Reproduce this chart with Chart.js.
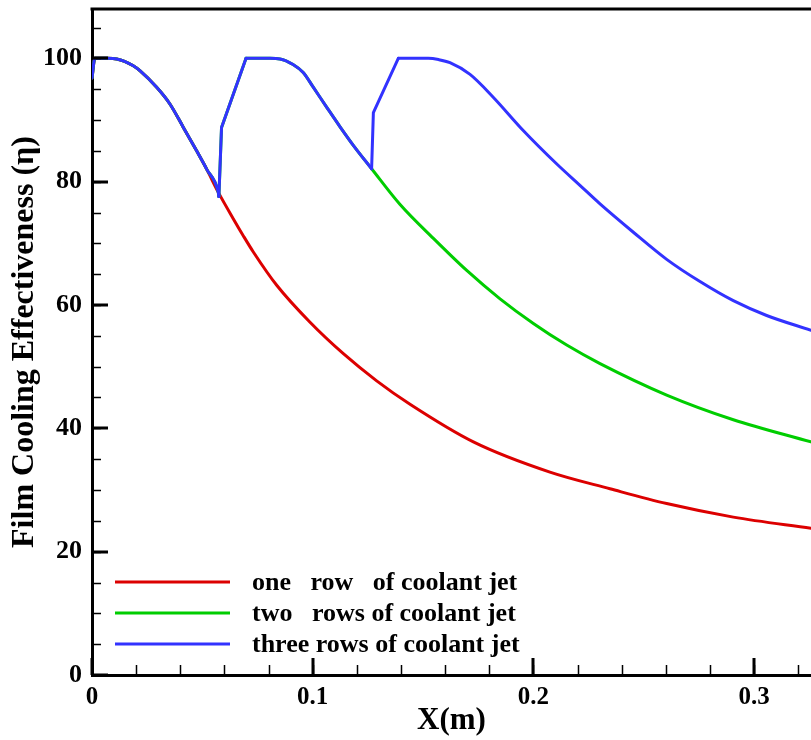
<!DOCTYPE html>
<html>
<head>
<meta charset="utf-8">
<script src="https://cdn.jsdelivr.net/npm/chart.js@4"></script>
<style>
  body { margin: 0; background: #fff; overflow: hidden; }
  #chart { display: block; }
</style>
</head>
<body>
<canvas id="chart" width="811" height="740"></canvas>
<script>
// values
const xOne = [0, 0.0013, 0.007, 0.0112, 0.0187, 0.0217, 0.0293, 0.0353, 0.0414, 0.0474, 0.052, 0.0572, 0.064, 0.0686, 0.0731, 0.0837, 0.0988, 0.1139, 0.129, 0.1441, 0.1728, 0.2075, 0.2347, 0.2604, 0.2906, 0.3258];
const yOne = [96.8, 100, 100, 99.9, 98.8, 98.0, 95.3, 92.6, 88.8, 85.0, 82.0, 78.3, 74.0, 71.2, 68.6, 63.2, 57.2, 52.1, 47.7, 43.9, 37.8, 32.9, 30.2, 27.8, 25.6, 23.8];

const xTwo = [0, 0.0013, 0.007, 0.0112, 0.0187, 0.0217, 0.0293, 0.0353, 0.0414, 0.0474, 0.052, 0.0572, 0.0575, 0.0587, 0.0698, 0.0807, 0.0852, 0.0911, 0.0957, 0.1001, 0.1063, 0.1124, 0.1184, 0.1267, 0.1396, 0.1547, 0.1698, 0.1849, 0.2, 0.2151, 0.2302, 0.2604, 0.2906, 0.3258];
const yTwo = [96.8, 100, 100, 99.9, 98.8, 98.0, 95.3, 92.6, 88.8, 85.0, 82.0, 78.3, 77.6, 88.8, 100, 100, 99.9, 99.0, 97.7, 95.4, 92.1, 88.9, 85.9, 82.1, 76.3, 70.8, 65.6, 61.0, 57.0, 53.5, 50.5, 45.4, 41.4, 37.8];

const xThree = [0, 0.0013, 0.007, 0.0112, 0.0187, 0.0217, 0.0293, 0.0353, 0.0414, 0.0474, 0.052, 0.0572, 0.0575, 0.0587, 0.0698, 0.0807, 0.0852, 0.0911, 0.0957, 0.1001, 0.1063, 0.1124, 0.1184, 0.1267, 0.1275, 0.1388, 0.1524, 0.157, 0.1622, 0.1713, 0.1818, 0.1954, 0.2105, 0.2211, 0.2302, 0.2453, 0.2604, 0.2755, 0.2906, 0.3057, 0.3258];
const yThree = [96.8, 100, 100, 99.9, 98.8, 98.0, 95.3, 92.6, 88.8, 85.0, 82.0, 78.3, 77.6, 88.8, 100, 100, 99.9, 99.0, 97.7, 95.4, 92.1, 88.9, 85.9, 82.1, 91.2, 100, 100, 99.8, 99.3, 97.4, 93.7, 88.3, 82.9, 79.4, 76.4, 71.8, 67.4, 63.8, 60.7, 58.3, 55.9];

// index spans that are straight ramps (jet injection) in each series
const rampsOne = [];
const rampsTwo = [[12, 14]];
const rampsThree = [[12, 14], [23, 25]];

const seriesLabels = ['one   row   of coolant jet', 'two   rows of coolant jet', 'three rows of coolant jet'];
const seriesColors = ['rgb(220, 0, 0)', 'rgb(0, 205, 0)', 'rgb(50, 50, 255)'];
const xTicks = [0, 0.1, 0.2, 0.3];
const yTicks = [0, 20, 40, 60, 80, 100];

const FONT = '"Liberation Serif", "Times New Roman", serif';

// split one series into smooth pieces and straight ramp pieces
function buildDatasets(xs, ys, ramps, idx) {
    const out = [];
    const cuts = [];
    let start = 0;
    ramps.forEach(r => {
        cuts.push({ from: start, to: r[0], straight: false });
        cuts.push({ from: r[0], to: r[1], straight: true });
        start = r[1];
    });
    cuts.push({ from: start, to: xs.length - 1, straight: false });
    cuts.forEach((c, k) => {
        const pts = [];
        for (let i = c.from; i <= c.to; i++) pts.push({ x: xs[i], y: ys[i] });
        out.push({
            label: seriesLabels[idx],
            inLegend: k === 0,
            data: pts,
            borderColor: seriesColors[idx],
            borderWidth: 3,
            cubicInterpolationMode: c.straight ? 'default' : 'monotone',
            tension: 0,
            order: 3 - idx
        });
    });
    return out;
}

// Frame top line + inward tick marks (major and minor)
const frameTicks = {
    id: 'frameTicks',
    afterDatasetsDraw(chart) {
        const { ctx, chartArea: a, scales: { x, y } } = chart;
        ctx.save();
        ctx.strokeStyle = '#000';
        ctx.lineWidth = 3;
        ctx.beginPath();
        ctx.moveTo(a.left - 1.5, a.top);
        ctx.lineTo(a.right, a.top);
        ctx.stroke();

        // minor ticks
        ctx.lineWidth = 1.5;
        ctx.beginPath();
        for (let v = 0.02; v <= x.max; v += 0.02) {
            const px = Math.round(x.getPixelForValue(v)) + 0.5;
            ctx.moveTo(px, a.bottom);
            ctx.lineTo(px, a.bottom - 10);
        }
        for (let v = 5; v <= y.max; v += 5) {
            const py = Math.round(y.getPixelForValue(v)) + 0.5;
            ctx.moveTo(a.left, py);
            ctx.lineTo(a.left + 9, py);
        }
        ctx.stroke();

        // major ticks
        ctx.lineWidth = 3;
        ctx.beginPath();
        xTicks.forEach(v => {
            const px = Math.round(x.getPixelForValue(v));
            ctx.moveTo(px, a.bottom);
            ctx.lineTo(px, a.bottom - 17);
        });
        yTicks.forEach(v => {
            const py = Math.round(y.getPixelForValue(v));
            ctx.moveTo(a.left, py);
            ctx.lineTo(a.left + 16, py);
        });
        ctx.stroke();
        ctx.restore();
    }
};

// Legend drawn inside the plot, lower left
const innerLegend = {
    id: 'innerLegend',
    afterDraw(chart) {
        const { ctx, chartArea: a } = chart;
        ctx.save();
        ctx.font = 'bold 26px ' + FONT;
        ctx.textBaseline = 'middle';
        ctx.fillStyle = '#000';
        chart.data.datasets.filter(ds => ds.inLegend).forEach((ds, i) => {
            const yy = a.bottom - 93 + i * 31;
            ctx.strokeStyle = ds.borderColor;
            ctx.lineWidth = 3;
            ctx.beginPath();
            ctx.moveTo(a.left + 23, yy);
            ctx.lineTo(a.left + 138, yy);
            ctx.stroke();
            ctx.fillText(ds.label, a.left + 160, yy + 1);
        });
        ctx.restore();
    }
};

const ctx = document.getElementById('chart').getContext('2d');
const chart = new Chart(ctx, {
    type: 'line',
    data: {
        datasets: [].concat(
            buildDatasets(xOne, yOne, rampsOne, 0),
            buildDatasets(xTwo, yTwo, rampsTwo, 1),
            buildDatasets(xThree, yThree, rampsThree, 2)
        )
    },
    options: {
        responsive: false,
        animation: false,
        events: [],
        elements: {
            point: { radius: 0 },
            line: { borderJoinStyle: 'round', borderCapStyle: 'round' }
        },
        layout: { autoPadding: false, padding: { top: 9, right: 0, left: 0, bottom: 0 } },
        scales: {
            x: {
                type: 'linear',
                min: 0,
                max: 0.3258,
                afterBuildTicks: s => { s.ticks = xTicks.map(v => ({ value: v })); },
                afterFit: s => { s.height = 65; s.paddingLeft = 0; s.paddingRight = 0; },
                grid: { display: false, drawTicks: false },
                border: { display: true, color: '#000', width: 3 },
                ticks: {
                    padding: 8,
                    maxRotation: 0,
                    color: '#000',
                    font: { family: FONT, size: 25, weight: 'bold' },
                    callback: v => String(v)
                },
                title: {
                    display: true,
                    text: 'X(m)',
                    color: '#000',
                    font: { family: FONT, size: 31, weight: 'bold' },
                    padding: { top: 0, bottom: 0 }
                }
            },
            y: {
                min: 0,
                max: 108,
                afterBuildTicks: s => { s.ticks = yTicks.map(v => ({ value: v })); },
                afterFit: s => { s.width = 92; s.paddingTop = 0; s.paddingBottom = 0; },
                grid: { display: false, drawTicks: false },
                border: { display: true, color: '#000', width: 3 },
                ticks: {
                    padding: 10,
                    color: '#000',
                    font: { family: FONT, size: 26, weight: 'bold' }
                },
                title: {
                    display: true,
                    text: 'Film Cooling Effectiveness (η)',
                    color: '#000',
                    font: { family: FONT, size: 32, weight: 'bold' },
                    padding: { top: 6, bottom: 0 }
                }
            }
        },
        plugins: {
            legend: { display: false },
            tooltip: { enabled: false }
        }
    },
    plugins: [frameTicks, innerLegend]
});
</script>
</body>
</html>
